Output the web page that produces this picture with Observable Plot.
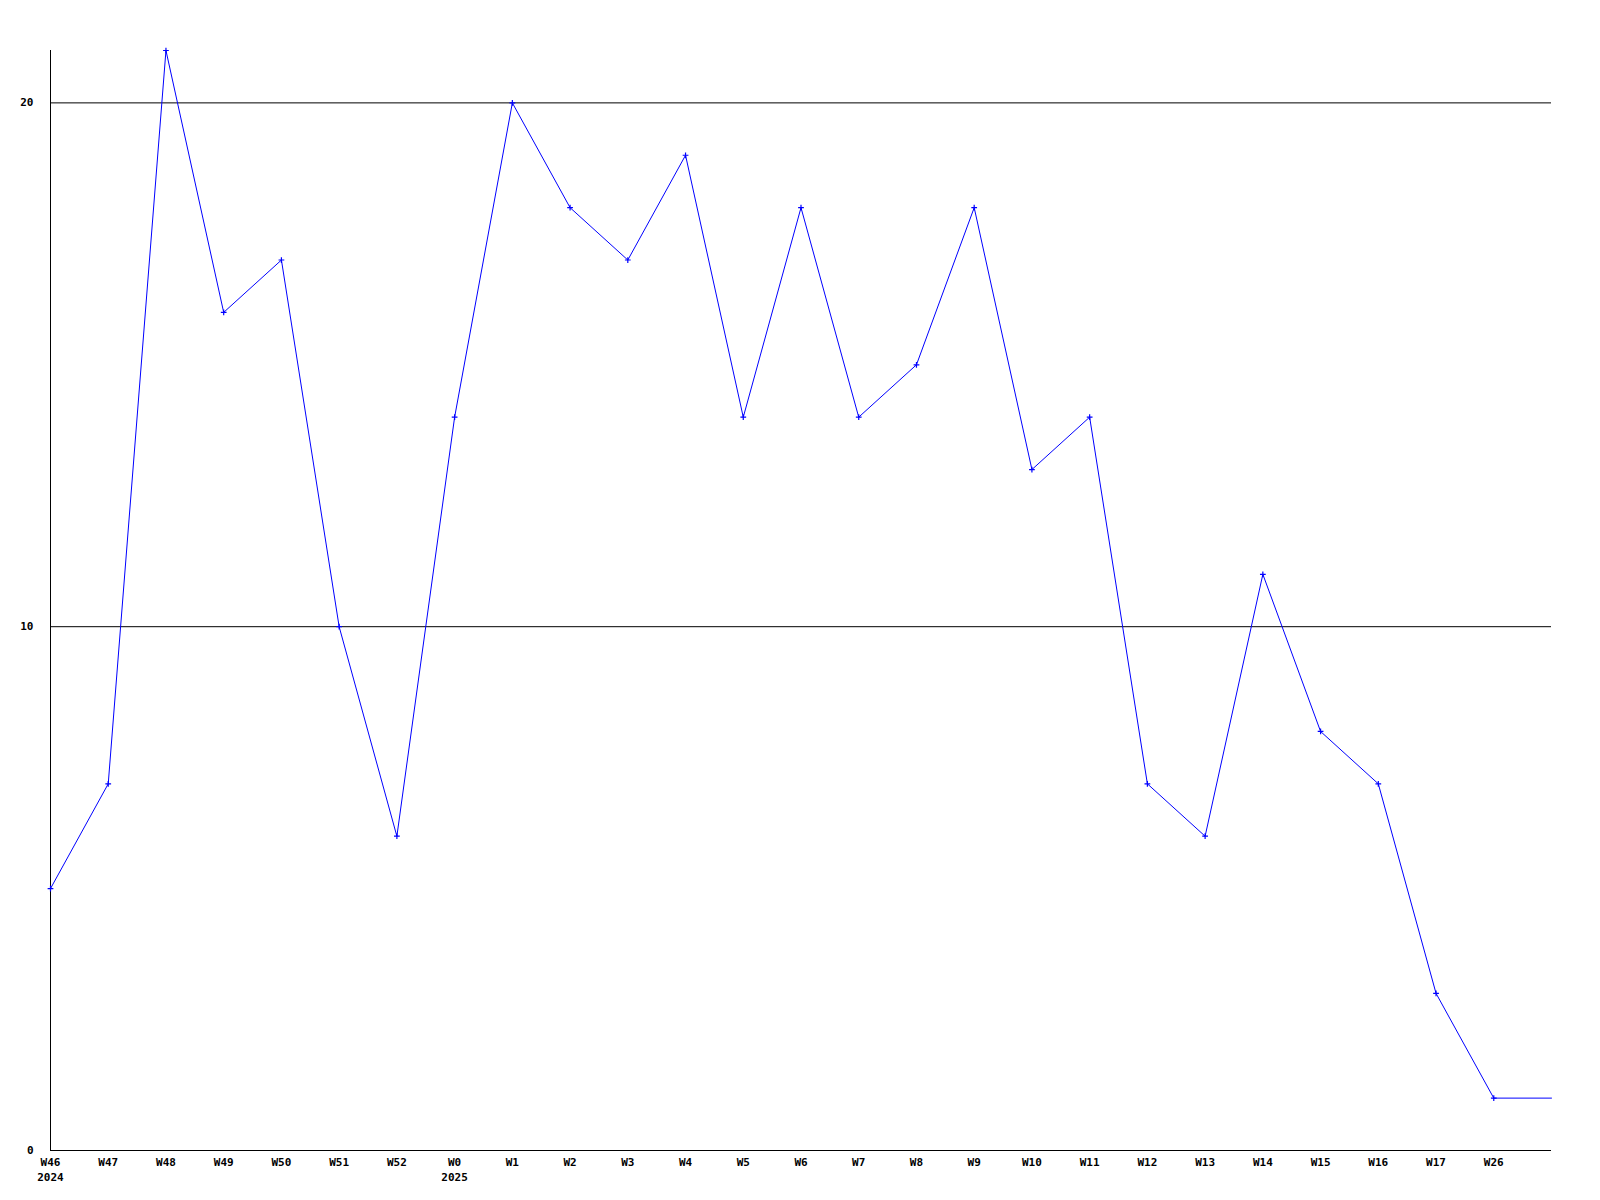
<!DOCTYPE html>
<html><head><meta charset="utf-8">
<script src="https://cdn.jsdelivr.net/npm/d3@7"></script>
<script src="https://cdn.jsdelivr.net/npm/@observablehq/plot@0.6"></script>
<style>body{margin:0;background:#fff;} svg{display:block;}</style>
</head><body><div id="chart"></div>
<script>
const weeks = ["W46","W47","W48","W49","W50","W51","W52","W0","W1","W2","W3","W4","W5","W6","W7","W8","W9","W10","W11","W12","W13","W14","W15","W16","W17","W26"];
const values = [5,7,21,16,17,10,6,14,20,18,17,19,14,18,14,15,18,13,14,7,6,11,8,7,3,1];
const years = [{week:"W46", year:"2024"},{week:"W0", year:"2025"}];
const yTicks = [0,10,20];

const pts = weeks.map((w,i)=>({i, week:w, v:values[i]}));
const lineData = pts.concat([{i:weeks.length, v:values[values.length-1]}]);
const idx = w => weeks.indexOf(w);
const font = "'DejaVu Sans Mono', monospace";

const chart = Plot.plot({
  width:1600, height:1200,
  marginLeft:50, marginTop:50, marginBottom:50, marginRight:49,
  style:{fontFamily:font, fontSize:"11px", fontWeight:"bold", background:"#fff", color:"#000"},
  x:{type:"linear", domain:[0, weeks.length], axis:null},
  y:{domain:[0,21], axis:null},
  marks:[
    Plot.ruleY([10,20], {stroke:"#000", strokeWidth:1}),
    Plot.ruleX([0], {stroke:"#000", strokeWidth:1}),
    Plot.ruleY([0], {stroke:"#000", strokeWidth:1}),
    Plot.text(yTicks, {x:0, y:d=>d, text:d=>String(d), textAnchor:"end", dx:-17, fill:"#000"}),
    Plot.text(pts, {x:"i", y:0, text:"week", dy:12, fill:"#000"}),
    Plot.text(years, {x:d=>idx(d.week), y:0, text:"year", dy:27, fill:"#000"}),
    Plot.line(lineData, {x:"i", y:"v", stroke:"#0000ff", strokeWidth:1}),
    Plot.dot(pts, {x:"i", y:"v", symbol:"plus", r:2, stroke:"#0000ff", strokeWidth:1.2})
  ]
});
document.getElementById("chart").append(chart);
</script></body></html>
